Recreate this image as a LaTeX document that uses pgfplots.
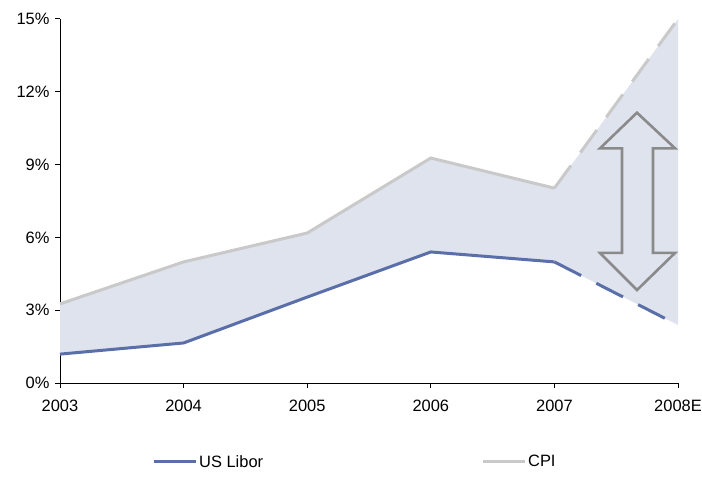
\documentclass[border=0pt]{standalone}
\usepackage{fontspec}
\setmainfont{Liberation Sans}
\usepackage{pgfplots}
\pgfplotsset{compat=1.18}
\usepackage{pgfplotstable}
\usepgfplotslibrary{fillbetween}

\definecolor{liborblue}{HTML}{5A6FA9}
\definecolor{cpigray}{HTML}{C9C9C9}
\definecolor{bandfill}{HTML}{DFE3EE}
\definecolor{arrowgray}{HTML}{8A8A8A}

% idx: 0 = 2003 ... 5 = 2008E (estimate)
\pgfplotstableread{
idx cpi   libor
0   3.26  1.19
1   4.99  1.65
2   6.18  3.54
3   9.27  5.40
4   8.03  4.99
5   15.0  2.39
}\ratedata

\begin{document}
\begin{tikzpicture}
\begin{axis}[
  at={(0,0)}, anchor=south west,
  scale only axis,
  width=618bp, height=364bp,
  xmin=0, xmax=5, ymin=0, ymax=15,
  axis lines=left,
  axis line style={-, black, line width=1pt},
  tick style={black, line width=1pt},
  tick align=outside,
  major tick length=5bp,
  xtick={0,1,2,3,4,5},
  xticklabels={2003,2004,2005,2006,2007,2008E},
  ytick={0,3,6,9,12,15},
  yticklabel={\pgfmathprintnumber{\tick}\%},
  /pgf/number format/assume math mode=true,
  ticklabel style={font=\fontsize{16.5}{19}\selectfont},
  xticklabel style={yshift=-9bp},
  yticklabel style={xshift=-2bp},
  clip=false,
  legend columns=2,
  legend style={
    at={(axis description cs:0.1489,-0.217)}, anchor=west,
    draw=none, fill=none, inner sep=0pt,
    font=\fontsize{16.5}{19}\selectfont,
    /tikz/every even column/.append style={column sep=216bp},
  },
  legend cell align=left,
  legend image code/.code={\draw[#1] (0bp,0bp) -- (42bp,0bp);},
]
  % band between the two series
  \addplot[draw=none, name path=cpiall, forget plot] table[x=idx, y=cpi] {\ratedata};
  \addplot[draw=none, name path=liborall, forget plot] table[x=idx, y=libor] {\ratedata};
  \addplot[bandfill, forget plot] fill between[of=cpiall and liborall];

  % spread arrow
  \draw[arrowgray, line width=2.6bp, line join=miter]
    (axis cs:4.668,11.14) -- (axis cs:4.976,9.67) -- (axis cs:4.798,9.67)
    -- (axis cs:4.798,5.36) -- (axis cs:4.976,5.36) -- (axis cs:4.668,3.83)
    -- (axis cs:4.369,5.36) -- (axis cs:4.547,5.36) -- (axis cs:4.547,9.67)
    -- (axis cs:4.369,9.67) -- cycle;

  % projected segments
  \addplot[liborblue, line width=3bp, dash pattern=on 30bp off 17bp, forget plot]
    table[x=idx, y=libor, restrict x to domain=4:5] {\ratedata};
  \addplot[cpigray, line width=3bp, dash pattern=on 28bp off 16bp, forget plot]
    table[x=idx, y=cpi, restrict x to domain=4:5] {\ratedata};

  % historical series
  \addplot[liborblue, line width=3bp] table[x=idx, y=libor, restrict x to domain=0:4] {\ratedata};
  \addlegendentry{US Libor}
  \addplot[cpigray, line width=3bp] table[x=idx, y=cpi, restrict x to domain=0:4] {\ratedata};
  \addlegendentry{CPI}
\end{axis}
\pgfresetboundingbox
\path[use as bounding box] (-60bp,-115bp) rectangle (642bp,383bp);
\end{tikzpicture}
\end{document}
